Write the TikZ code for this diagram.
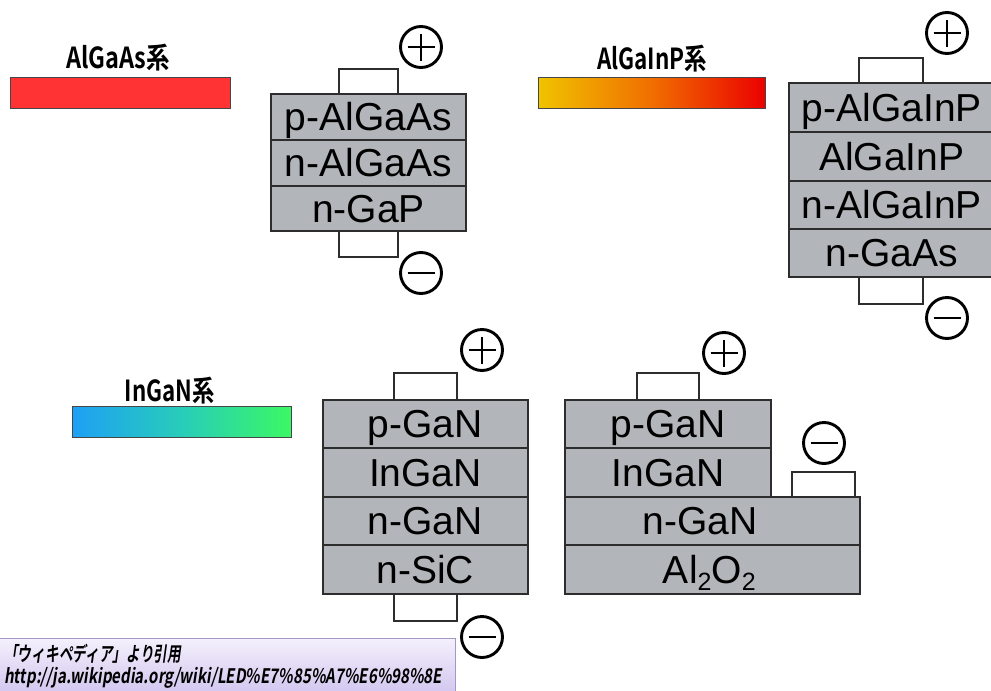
\documentclass[tikz,border=0pt]{standalone}
\usepackage{fontspec}
\usepackage{graphicx}
\newfontfamily\layerfont{Liberation Sans}
\newfontfamily\jpbold{Noto Sans CJK JP Bold}
\newfontfamily\citefont[FakeSlant=0.2]{Noto Sans CJK JP Bold}

\definecolor{layergray}{RGB}{178,182,186}
\definecolor{edgegray}{RGB}{45,45,45}
\definecolor{ledred}{RGB}{255,51,51}
\definecolor{ledyellow}{RGB}{240,195,0}
\definecolor{ledorange}{RGB}{240,110,0}
\definecolor{leddeepred}{RGB}{235,0,0}
\definecolor{ledblue}{RGB}{30,160,245}
\definecolor{ledteal}{RGB}{40,205,185}
\definecolor{ledgreen}{RGB}{60,248,100}
\definecolor{citetop}{RGB}{244,240,252}
\definecolor{citebottom}{RGB}{208,196,238}
\definecolor{citeedge}{RGB}{165,150,200}

\begin{document}
\begin{tikzpicture}[x=1pt,y=-1pt,
  layer/.style={draw=edgegray, fill=layergray, line width=1.8pt, inner sep=0pt,
    anchor=north west, font=\layerfont\fontsize{39}{39}\selectfont,
    text height=28pt, text depth=0pt},
  pad/.style={draw=edgegray, fill=white, line width=1.6pt, inner sep=0pt,
    anchor=north west},
  pole/.style={circle, draw=black, line width=2.9pt, minimum size=41pt, inner sep=0pt},
  pluspole/.style={pole, path picture={
    \draw[line width=2.9pt] ([xshift=-13.5pt]path picture bounding box.center) -- ++(27pt,0pt)
      ([yshift=-13.5pt]path picture bounding box.center) -- ++(0pt,27pt);}},
  minuspole/.style={pole, path picture={
    \draw[line width=2.9pt] ([xshift=-13.5pt]path picture bounding box.center) -- ++(27pt,0pt);}},
  bar/.style={draw={rgb,255:red,70;green,70;blue,70}, line width=1.2pt, inner sep=0pt,
    anchor=north west, minimum height=31pt},
  family/.style={font=\jpbold\fontsize{29}{29}\selectfont, inner sep=0pt, anchor=base},
  citeline/.style={font=\citefont\fontsize{20}{20}\selectfont, inner sep=0pt, anchor=base west}
]
\useasboundingbox (0,0) rectangle (991,691);
\clip (0,0) rectangle (991,691);

% ---------- AlGaAs ----------
\node[family] (lblAlGaAs) at (118,68) {\resizebox{104pt}{\height}{AlGaAs系}};
\node[bar, fill=ledred, minimum width=220pt] (barAlGaAs) at (10,77) {};

\node[pad, minimum width=59pt, minimum height=25pt] (d1top) at (338,68) {};
\node[pad, minimum width=59pt, minimum height=26pt] (d1bot) at (338,230) {};
\node[layer, minimum width=195pt, minimum height=46pt] (d1a) at (270,93) {p-AlGaAs};
\node[layer, minimum width=195pt, minimum height=46pt] (d1b) at (270,139) {n-AlGaAs};
\node[layer, minimum width=195pt, minimum height=45pt] (d1c) at (270,185) {n-GaP};
\node[pluspole] (d1plus) at (421,47) {};
\node[minuspole] (d1minus) at (421,273) {};

% ---------- AlGaInP ----------
\node[family] (lblAlGaInP) at (652,69) {\resizebox{110pt}{\height}{AlGaInP系}};
\node[bar, minimum width=227pt, left color=ledyellow, right color=leddeepred,
  middle color=ledorange] (barAlGaInP) at (538,77) {};

\node[pad, minimum width=64pt, minimum height=25pt] (d2top) at (858,57) {};
\node[pad, minimum width=64pt, minimum height=27pt] (d2bot) at (858,276) {};
\node[layer, minimum width=206pt, minimum height=49pt] (d2a) at (788,82) {p-AlGaInP};
\node[layer, minimum width=206pt, minimum height=49pt] (d2b) at (788,131) {AlGaInP};
\node[layer, minimum width=206pt, minimum height=48pt] (d2c) at (788,180) {n-AlGaInP};
\node[layer, minimum width=206pt, minimum height=48pt] (d2d) at (788,228) {n-GaAs};
\node[pluspole] (d2plus) at (947,33) {};
\node[minuspole] (d2minus) at (947,318) {};

% ---------- InGaN ----------
\node[family] (lblInGaN) at (170,401) {\resizebox{90pt}{\height}{InGaN系}};
\node[bar, minimum width=219pt, left color=ledblue, right color=ledgreen,
  middle color=ledteal] (barInGaN) at (72,406) {};

% vertical device on SiC
\node[pad, minimum width=63pt, minimum height=27pt] (d3top) at (393,372) {};
\node[pad, minimum width=63pt, minimum height=27pt] (d3bot) at (393,593) {};
\node[layer, minimum width=205pt, minimum height=48pt] (d3a) at (322,399) {p-GaN};
\node[layer, minimum width=205pt, minimum height=49pt] (d3b) at (322,447) {InGaN};
\node[layer, minimum width=205pt, minimum height=48pt] (d3c) at (322,496) {n-GaN};
\node[layer, minimum width=205pt, minimum height=49pt] (d3d) at (322,544) {n-SiC};
\node[pluspole] (d3plus) at (482,350) {};
\node[minuspole] (d3minus) at (482,637) {};

% lateral device on sapphire
\node[pad, minimum width=62pt, minimum height=27pt] (d4top) at (636,372) {};
\node[pad, minimum width=63pt, minimum height=25pt] (d4side) at (791,471) {};
\node[layer, minimum width=206pt, minimum height=48pt] (d4a) at (564,399) {p-GaN};
\node[layer, minimum width=206pt, minimum height=49pt] (d4b) at (564,447) {InGaN};
\node[layer, minimum width=295pt, minimum height=48pt] (d4c) at (564,496) {\hspace*{-24pt}n-GaN};
\node[layer, minimum width=295pt, minimum height=49pt] (d4d) at (564,544)
  {\hspace*{-6pt}Al\raisebox{-7pt}{\fontsize{25}{25}\selectfont 2}O\raisebox{-7pt}{\fontsize{25}{25}\selectfont 2}};
\node[pluspole] (d4plus) at (724,353) {};
\node[minuspole] (d4minus) at (824,443) {};

% ---------- source note ----------
\node[draw=citeedge, line width=1.2pt, top color=citetop, bottom color=citebottom,
  anchor=north west, minimum width=456pt, minimum height=58pt, inner sep=0pt] (cite) at (-1,638) {};
\node[citeline] (cite1) at (4,661) {\resizebox{177pt}{\height}{「ウィキペディア」より引用}};
\node[citeline] (cite2) at (4,683) {\resizebox{438pt}{\height}{http://ja.wikipedia.org/wiki/LED\%E7\%85\%A7\%E6\%98\%8E}};
\end{tikzpicture}
\end{document}
